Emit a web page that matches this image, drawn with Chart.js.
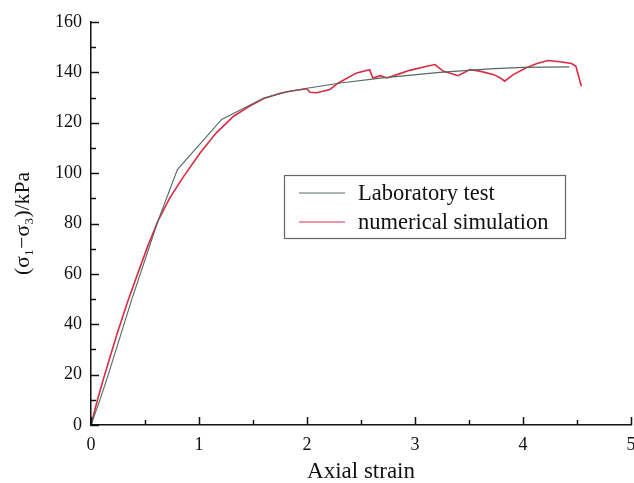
<!DOCTYPE html>
<html>
<head>
<meta charset="utf-8">
<script src="https://cdn.jsdelivr.net/npm/chart.js@4/dist/chart.umd.min.js"></script>
<style>
  html, body { margin: 0; padding: 0; background: #fff; overflow: hidden; }
  #wrap { width: 640px; height: 483px; }
</style>
</head>
<body>
<div id="wrap"><canvas id="stressChart" width="640" height="483"></canvas></div>
<script>
// courbe de l'essai en laboratoire
const labStrain = [0, 0.083, 0.16, 0.377, 0.62, 0.80, 1.21, 1.6, 1.84, 2.0, 2.31, 2.7, 3.23, 3.69, 4.0, 4.43];
const labStress = [0, 10, 20, 49.8, 81, 101.4, 121.3, 129.8, 132.5, 133.7, 135.8, 137.8, 140, 141.4, 142, 142.2];

// courbe de la simulation numérique
const simStrain = [0, 0.06, 0.12, 0.24, 0.34, 0.44, 0.53, 0.62, 0.73, 0.855, 1.01, 1.16, 1.32, 1.47, 1.6, 1.76, 1.843,
    1.997, 2.028, 2.09, 2.213, 2.29, 2.46, 2.58, 2.61, 2.68, 2.74, 2.86, 2.95, 3.11, 3.185, 3.26, 3.40, 3.51,
    3.60, 3.73, 3.79, 3.83, 3.91, 4.03, 4.13, 4.23, 4.34, 4.45, 4.49, 4.54];
const simStress = [0, 10, 19, 36, 49, 61, 71.5, 81, 90.2, 98.5, 108, 116, 122.6, 126.6, 129.6, 131.8, 132.5,
    133.5, 132.1, 131.9, 133.2, 135.8, 139.8, 141.1, 137.8, 138.7, 137.8, 139.5, 140.8, 142.4, 143.1, 140.5, 138.7, 141.1,
    140.5, 139.1, 137.8, 136.5, 139.1, 141.8, 143.5, 144.7, 144.2, 143.5, 142.4, 134.5];

const seriesNames = ["Laboratory test", "numerical simulation"];
const xTicks = [0, 1, 2, 3, 4, 5];
const yTicks = [0, 20, 40, 60, 80, 100, 120, 140, 160];

const serif = "'Liberation Serif', 'DejaVu Serif', serif";

function toPoints(xs, ys) {
    return xs.map((x, i) => ({ x: x, y: ys[i] }));
}

// petites graduations tournées vers l'intérieur
const innerTicks = {
    id: "innerTicks",
    afterDraw(chart) {
        const ctx = chart.ctx;
        const xs = chart.scales.x, ys = chart.scales.y;
        const area = chart.chartArea;
        ctx.save();
        ctx.strokeStyle = "#111";
        ctx.lineWidth = 1.5;
        for (let v = 0; v <= 5; v += 0.5) {
            const px = Math.round(xs.getPixelForValue(v)) + 0.5;
            const len = Number.isInteger(v) ? 8 : 5;
            ctx.beginPath();
            ctx.moveTo(px, area.bottom);
            ctx.lineTo(px, area.bottom - len);
            ctx.stroke();
        }
        for (let v = 0; v <= 160; v += 10) {
            const py = Math.round(ys.getPixelForValue(v)) + 0.5;
            const len = v % 20 === 0 ? 8 : 5;
            ctx.beginPath();
            ctx.moveTo(area.left, py);
            ctx.lineTo(area.left + len, py);
            ctx.stroke();
        }
        ctx.restore();
    }
};

// légende encadrée à l'intérieur du graphique
const boxLegend = {
    id: "boxLegend",
    afterDraw(chart) {
        const ctx = chart.ctx;
        const area = chart.chartArea;
        const left = area.left + 193, top = area.top + 153;
        const w = 281, h = 63;
        ctx.save();
        ctx.strokeStyle = "#666";
        ctx.lineWidth = 1.2;
        ctx.strokeRect(left + 0.5, top + 0.5, w, h);
        ctx.font = "22.5px " + serif;
        ctx.textBaseline = "middle";
        ctx.fillStyle = "#111";
        chart.data.datasets.forEach((ds, i) => {
            const y = top + 18 + i * 29;
            ctx.strokeStyle = ds.borderColor;
            ctx.lineWidth = 1;
            ctx.beginPath();
            ctx.moveTo(left + 15, y);
            ctx.lineTo(left + 61, y);
            ctx.stroke();
            ctx.fillText(ds.label, left + 74, y + 1);
        });
        ctx.restore();
    }
};

const ctx = document.getElementById("stressChart").getContext("2d");
new Chart(ctx, {
    type: "line",
    data: {
        datasets: [
            {
                label: seriesNames[0],
                data: toPoints(labStrain, labStress),
                borderColor: "#56695f",
                borderWidth: 1.1,
                pointRadius: 0,
                fill: false,
                tension: 0
            },
            {
                label: seriesNames[1],
                data: toPoints(simStrain, simStress),
                borderColor: "#dc2a42",
                borderWidth: 1.6,
                pointRadius: 0,
                fill: false,
                tension: 0
            }
        ]
    },
    options: {
        responsive: false,
        animation: false,
        devicePixelRatio: 1,
        layout: { padding: { top: 22, right: 9, bottom: 0, left: 0 } },
        plugins: {
            legend: { display: false },
            tooltip: { enabled: false }
        },
        scales: {
            x: {
                type: "linear",
                min: 0,
                max: 5,
                afterBuildTicks: s => { s.ticks = xTicks.map(v => ({ value: v })); },
                afterFit: s => { s.height = 58; s.paddingLeft = 0; s.paddingRight = 0; },
                grid: { display: true, drawOnChartArea: false, drawTicks: false },
                border: { display: true, color: "#111", width: 1.5 },
                ticks: { color: "#111", font: { family: serif, size: 18 }, padding: 9, maxRotation: 0 },
                title: {
                    display: true,
                    text: "Axial strain",
                    color: "#111",
                    font: { family: serif, size: 23, lineHeight: 1.0 },
                    padding: { top: 0, bottom: 0 }
                }
            },
            y: {
                type: "linear",
                min: 0,
                max: 160,
                afterBuildTicks: s => { s.ticks = yTicks.map(v => ({ value: v })); },
                afterFit: s => { s.width = 91; },
                grid: { display: true, drawOnChartArea: false, drawTicks: false },
                border: { display: true, color: "#111", width: 1.5 },
                ticks: { color: "#111", font: { family: serif, size: 18 }, padding: 9 },
                title: {
                    display: true,
                    text: "(σ₁−σ₃)/kPa",
                    color: "#111",
                    font: { family: serif, size: 21.5 },
                    padding: { top: 10, bottom: 0 }
                }
            }
        }
    },
    plugins: [innerTicks, boxLegend]
});
</script>
</body>
</html>
